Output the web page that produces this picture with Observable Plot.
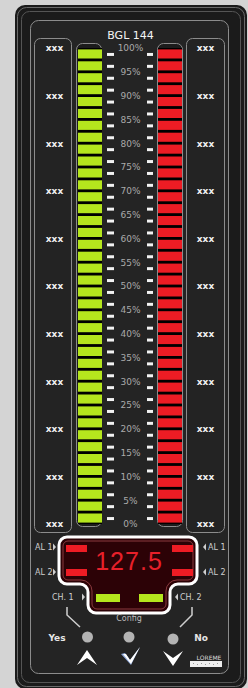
<!DOCTYPE html>
<html>
<head>
<meta charset="utf-8">
<script src="https://cdn.jsdelivr.net/npm/d3@7"></script>
<script src="https://cdn.jsdelivr.net/npm/@observablehq/plot@0.6"></script>
<style>
  html, body { margin: 0; padding: 0; background: #d4d4d4; }
  #dev { position: relative; width: 248px; height: 688px; overflow: hidden; }
  #dev > svg { position: absolute; left: 0; top: 0; }
</style>
</head>
<body>
<div id="dev">
<svg id="deco" width="248" height="688" font-family="DejaVu Sans, sans-serif">
  <rect width="248" height="688" fill="#d4d4d4"/>
  <rect x="15" y="5" width="232" height="684" rx="10" fill="#1b1b1b"/>
  <rect x="17.5" y="7.5" width="227" height="679" rx="9" fill="none" stroke="#6a6a6a"/>
  <rect x="21.5" y="11.5" width="219" height="671" rx="8" fill="none" stroke="#555"/>
  <rect x="30.5" y="20.5" width="198" height="653" rx="8" fill="#242424" stroke="#8c8c8c"/>
  <rect x="34.5" y="38.5" width="37" height="494" rx="6" fill="#232323" stroke="#8c8c8c"/>
  <rect x="186.5" y="38.5" width="38" height="494" rx="6" fill="#232323" stroke="#8c8c8c"/>
  <rect x="76.5" y="43.5" width="25" height="483" rx="6" fill="#1c1c1c" stroke="#8c8c8c"/>
  <rect x="157.5" y="43.5" width="25" height="483" rx="6" fill="#1c1c1c" stroke="#8c8c8c"/>
  <!-- display -->
  <path d="M67,537 H189 A8,8 0 0 1 197,545 V576 A8,8 0 0 1 189,584 H178 A8,8 0 0 0 170,592 V605 A8,8 0 0 1 162,613 H96 A8,8 0 0 1 88,605 V592 A8,8 0 0 0 80,584 H67 A8,8 0 0 1 59,576 V545 A8,8 0 0 1 67,537 Z" fill="#2c0206" stroke="#ffffff" stroke-width="3"/>
  <path d="M68,541 H188 A5,5 0 0 1 193,546 V575 A5,5 0 0 1 188,580 H177 A11,11 0 0 0 166,591 V604 A5,5 0 0 1 161,609 H97 A5,5 0 0 1 92,604 V591 A11,11 0 0 0 81,580 H68 A5,5 0 0 1 63,575 V546 A5,5 0 0 1 68,541 Z" fill="none" stroke="#8a3a3e" stroke-width="1"/>
  <g id="lamps"></g>
  <text id="dval" x="129" y="570" text-anchor="middle" font-family="Liberation Sans, Arial, sans-serif" font-size="25" letter-spacing="1" fill="#e8202a"></text>
  <g fill="#cfcfcf" font-size="8">
    <text x="35" y="550">AL 1</text>
    <text x="35" y="575">AL 2</text>
    <polygon points="53,543.5 56,547 53,550.5"/>
    <polygon points="53,568.5 56,572 53,575.5"/>
    <text x="208" y="550">AL 1</text>
    <text x="208" y="575">AL 2</text>
    <polygon points="206,543.5 203,547 206,550.5"/>
    <polygon points="206,568.5 203,572 206,575.5"/>
    <text x="52" y="600">CH. 1</text>
    <polygon points="82,593.5 85,597 82,600.5"/>
    <text x="180" y="600">CH. 2</text>
    <polygon points="178,593.5 175,597 178,600.5"/>
    <text x="129" y="621" text-anchor="middle" fill="#bbbbbb">Config</text>
  </g>
  <polyline points="67,607 67,615 80,627" fill="none" stroke="#cfcfcf" stroke-width="1.5"/>
  <polyline points="192,607 192,615 180,627" fill="none" stroke="#cfcfcf" stroke-width="1.5"/>
  <text x="57" y="641" text-anchor="middle" font-size="9" font-weight="bold" fill="#e6e6e6">Yes</text>
  <text x="201" y="641" text-anchor="middle" font-size="9" font-weight="bold" fill="#e6e6e6">No</text>
  <circle cx="87.5" cy="637" r="5.5" fill="#b3b3b3"/>
  <circle cx="129" cy="637" r="5.5" fill="#b3b3b3"/>
  <circle cx="173" cy="639" r="5.5" fill="#b3b3b3"/>
  <polygon points="77,665 87,650 97,665 87,658" fill="#ffffff"/>
  <polygon points="163,651 173,658 183,651 173,666" fill="#ffffff"/>
  <polygon points="121,654 125,653 130,660 140,647 131,665" fill="#8fa8d8"/>
  <polygon points="123,654 126,654 130,660 140,647 131,664" fill="#ffffff"/>
  <text x="209" y="660" text-anchor="middle" font-size="6" fill="#dddddd">LOREME</text>
  <rect x="190" y="661" width="32" height="6" fill="#eeeeee"/>
  <g fill="#999">
    <rect x="193" y="663" width="1" height="1"/><rect x="197" y="664" width="1" height="1"/>
    <rect x="201" y="663" width="1" height="1"/><rect x="205" y="664" width="1" height="1"/>
    <rect x="209" y="663" width="1" height="1"/><rect x="213" y="664" width="1" height="1"/>
    <rect x="217" y="663" width="1" height="1"/>
  </g>
</svg>
</div>
<script>
// ---- data ----
const title = "BGL 144";
const channels = ["CH1", "CH2"];
const channelColors = ["#b5e61d", "#ed1c24"];
const barLevels = [100, 100];           // percent lit on each bargraph
const segmentSize = 2.5;                // percent per LED segment
const scaleValues = [0, 5, 10, 15, 20, 25, 30, 35, 40, 45, 50, 55, 60, 65, 70, 75, 80, 85, 90, 95, 100];
const scaleLabels = ["0%", "5%", "10%", "15%", "20%", "25%", "30%", "35%", "40%", "45%", "50%", "55%", "60%", "65%", "70%", "75%", "80%", "85%", "90%", "95%", "100%"];
const sideValues = [0, 10, 20, 30, 40, 50, 60, 70, 80, 90, 100];
const sideLabels = ["xxx", "xxx", "xxx", "xxx", "xxx", "xxx", "xxx", "xxx", "xxx", "xxx", "xxx"];
const tickValues = [1.25, 3.75, 6.25, 8.75, 11.25, 13.75, 16.25, 18.75, 21.25, 23.75, 26.25, 28.75, 31.25, 33.75, 36.25, 38.75, 41.25, 43.75, 46.25, 48.75, 51.25, 53.75, 56.25, 58.75, 61.25, 63.75, 66.25, 68.75, 71.25, 73.75, 76.25, 78.75, 81.25, 83.75, 86.25, 88.75, 91.25, 93.75, 96.25, 98.75];
const displayValue = "127.5";
const alarmLamps = ["AL1-L", "AL2-L", "AL1-R", "AL2-R"];
const channelLamps = ["CH1", "CH2"];

// ---- build ----
const segs = [];
channels.forEach((c, i) => {
  for (let v = 0; v < barLevels[i]; v += segmentSize) segs.push({ch: c, y1: v, y2: v + segmentSize, color: channelColors[i]});
});
const scaleRows = scaleValues.map((v, i) => ({v, label: scaleLabels[i]}));
const sideRows = sideValues.map((v, i) => ({v, label: sideLabels[i]}));

const plot = Plot.plot({
  width: 248, height: 688,
  marginTop: 48, marginBottom: 164, marginLeft: 77, marginRight: 66,
  x: {type: "band", domain: channels, paddingInner: 0.7037, paddingOuter: 0, axis: null},
  y: {domain: [0, 100], axis: null},
  style: {background: "transparent", overflow: "visible", fontFamily: "DejaVu Sans, sans-serif"},
  marks: [
    Plot.barY(channels, {x: d => d, y1: 0, y2: 100, fill: "#000"}),
    Plot.barY(segs, {x: "ch", y1: "y1", y2: "y2", fill: "color", insetTop: 1.4, insetBottom: 1.4}),
    Plot.tickY(tickValues, {x: () => "CH1", y: d => d, stroke: "#f2f2f2", strokeWidth: 3, dx: 29, insetLeft: 0, insetRight: 17}),
    Plot.tickY(tickValues, {x: () => "CH2", y: d => d, stroke: "#f2f2f2", strokeWidth: 3, dx: -11, insetLeft: 0, insetRight: 18}),
    Plot.text(scaleRows, {x: () => "CH1", y: "v", text: "label", dx: 40, fill: "#aaaaaa", fontSize: 9}),
    Plot.text(sideRows, {x: () => "CH1", y: "v", text: "label", dx: -36, fill: "#f0f0f0", fontSize: 9, fontWeight: "bold"}),
    Plot.text(sideRows, {x: () => "CH2", y: "v", text: "label", dx: 35, fill: "#f0f0f0", fontSize: 9, fontWeight: "bold"}),
    Plot.text([title], {x: () => "CH1", y: () => 100, text: d => d, dx: 40, dy: -13, fill: "#f4f4f4", fontSize: 11})
  ]
});
document.getElementById("dev").appendChild(plot);

// display contents
document.getElementById("dval").textContent = displayValue;
const ns = "http://www.w3.org/2000/svg";
const lampGeom = {"AL1-L": [66, 545, 21, 7], "AL2-L": [66, 569, 21, 7], "AL1-R": [172, 545, 21, 7], "AL2-R": [172, 569, 21, 7], "CH1": [96, 594, 24, 8], "CH2": [139, 594, 24, 8]};
const lampsG = document.getElementById("lamps");
alarmLamps.concat(channelLamps).forEach(k => {
  const [x, y, w, h] = lampGeom[k];
  const r = document.createElementNS(ns, "rect");
  r.setAttribute("x", x); r.setAttribute("y", y); r.setAttribute("width", w); r.setAttribute("height", h);
  r.setAttribute("fill", k.startsWith("AL") ? "#ee1c24" : "#b5e61d");
  lampsG.appendChild(r);
});
</script>
</body>
</html>
